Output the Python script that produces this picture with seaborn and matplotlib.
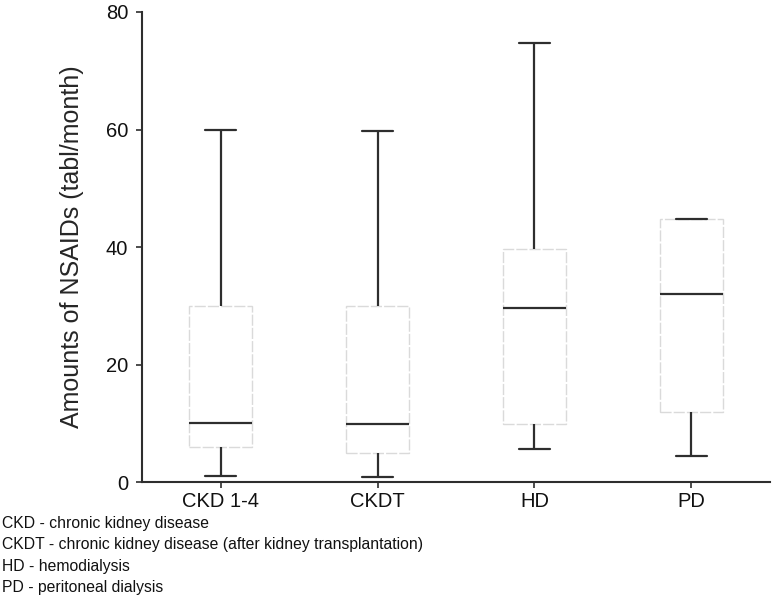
import seaborn as sns
import pandas as pd
import matplotlib.pyplot as plt

# Box summary values (low whisker, Q1, median, Q3, high whisker)
groups = ["CKD 1-4", "CKDT", "HD", "PD"]
ckd = [1, 6, 10, 30, 60]
ckdt = [0.8, 5, 9.8, 30, 59.8]
hd = [5.7, 9.8, 29.7, 39.7, 74.8]
pd_vals = [4.5, 12, 32, 44.7, 44.7]
notes = ["CKD - chronic kidney disease",
         "CKDT - chronic kidney disease (after kidney transplantation)",
         "HD - hemodialysis",
         "PD - peritoneal dialysis"]

rows = []
for name, vals in zip(groups, [ckd, ckdt, hd, pd_vals]):
    for v in vals:
        rows.append({"group": name, "amount": v})
df = pd.DataFrame(rows)

sns.set_style("ticks")
plt.rcParams['font.family'] = ['Liberation Sans', 'DejaVu Sans']

fig = plt.figure(figsize=(7.74, 6.09), dpi=100)
ax = fig.add_axes([0.1835, 0.2085, 0.8113, 0.7718])

dark = '#2e2e2e'
sns.boxplot(data=df, x="group", y="amount", order=groups, whis=(0, 100), width=0.4,
            showfliers=False, ax=ax,
            boxprops=dict(facecolor='white', edgecolor='#dadada', linewidth=1.0, linestyle=(0, (8, 1.5))),
            whiskerprops=dict(color=dark, linewidth=1.6),
            capprops=dict(color=dark, linewidth=1.6),
            medianprops=dict(color=dark, linewidth=1.6))

ax.set_ylim(0, 80)
ax.set_xlim(-0.5, 3.5)
ax.set_yticks([0, 20, 40, 60, 80])
ax.set_xlabel('')
ax.set_ylabel('Amounts of NSAIDs (tabl/month)', fontsize=18, labelpad=16)
ax.tick_params(axis='both', labelsize=14.5, length=4, width=1.2, color=dark, labelcolor='#111111')
ax.tick_params(axis='y', pad=6)
sns.despine(ax=ax)
for s in ['left', 'bottom']:
    ax.spines[s].set_color(dark)
    ax.spines[s].set_linewidth(1.5)

for i, line in enumerate(notes):
    fig.text(0.003, 0.1396 - i * 0.0345, line, fontsize=11.3, va='center', ha='left', color='#111111')

plt.savefig('out.png', dpi=100)
plt.close()
